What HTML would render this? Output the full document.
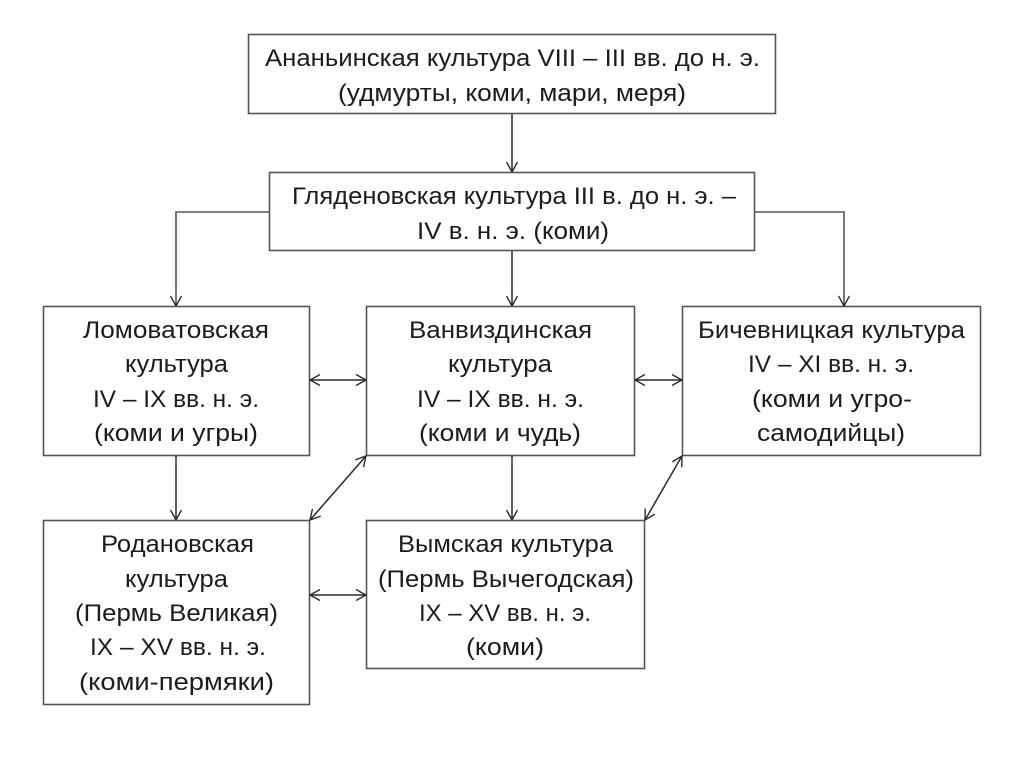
<!DOCTYPE html>
<html><head><meta charset="utf-8">
<style>
html,body{margin:0;padding:0;background:#fff}
svg{display:block;filter:blur(0.35px)}
text{font-family:"Liberation Sans","DejaVu Sans",sans-serif;font-size:24.5px;fill:#1c1c1c;text-anchor:start}
rect{fill:#fff;stroke:#555;stroke-width:1.6}
.l{fill:none;stroke:#2a2a2a;stroke-width:1.5}
.g{fill:none;stroke:#555;stroke-width:1.6}
</style></head><body>
<svg width="1024" height="767" viewBox="0 0 1024 767" xmlns="http://www.w3.org/2000/svg">
<defs>
<marker id="a" viewBox="0 0 11 12" refX="10.5" refY="6" markerWidth="11" markerHeight="12" markerUnits="userSpaceOnUse" orient="auto-start-reverse"><path d="M0.500 0.500L10.500 6L0.500 11.500" fill="none" stroke="#2a2a2a" stroke-width="1.4"/></marker>
</defs>
<rect x="248.500" y="34.500" width="527" height="79"/>
<rect x="269.500" y="172.500" width="485" height="78"/>
<rect x="43.500" y="306.500" width="266" height="149"/>
<rect x="366.500" y="306.500" width="268" height="149"/>
<rect x="682.500" y="306.500" width="298" height="149"/>
<rect x="43.500" y="520.500" width="266" height="184"/>
<rect x="366.500" y="520.500" width="278" height="148"/>
<path class="l" d="M512 114V172" marker-end="url(#a)"/>
<path class="g" d="M269 212H176V306" marker-end="url(#a)"/>
<path class="l" d="M512 251V306" marker-end="url(#a)"/>
<path class="g" d="M755 212H844V306" marker-end="url(#a)"/>
<path class="l" d="M310 380H366" marker-start="url(#a)" marker-end="url(#a)"/>
<path class="l" d="M635 380H682" marker-start="url(#a)" marker-end="url(#a)"/>
<path class="l" d="M176 456V520" marker-end="url(#a)"/>
<path class="l" d="M512 456V520" marker-end="url(#a)"/>
<path class="l" d="M310 520L366 456" marker-start="url(#a)" marker-end="url(#a)"/>
<path class="l" d="M645 520L682 456" marker-start="url(#a)" marker-end="url(#a)"/>
<path class="l" d="M310 595H366" marker-start="url(#a)" marker-end="url(#a)"/>
<g lengthAdjust="spacingAndGlyphs">
<text x="265" y="66" textLength="495" lengthAdjust="spacingAndGlyphs">Ананьинская культура VIII – III вв. до н. э.</text>
<text x="338" y="101" textLength="348" lengthAdjust="spacingAndGlyphs">(удмурты, коми, мари, меря)</text>
<text x="292" y="204" textLength="444" lengthAdjust="spacingAndGlyphs">Гляденовская культура III в. до н. э. –</text>
<text x="417" y="239" textLength="192" lengthAdjust="spacingAndGlyphs">IV в. н. э. (коми)</text>
<text x="83" y="338" textLength="186" lengthAdjust="spacingAndGlyphs">Ломоватовская</text>
<text x="125" y="372" textLength="103" lengthAdjust="spacingAndGlyphs">культура</text>
<text x="93" y="407" textLength="166" lengthAdjust="spacingAndGlyphs">IV – IX вв. н. э.</text>
<text x="94" y="441" textLength="164" lengthAdjust="spacingAndGlyphs">(коми и угры)</text>
<text x="409" y="338" textLength="183" lengthAdjust="spacingAndGlyphs">Ванвиздинская</text>
<text x="448" y="372" textLength="104" lengthAdjust="spacingAndGlyphs">культура</text>
<text x="417" y="407" textLength="167" lengthAdjust="spacingAndGlyphs">IV – IX вв. н. э.</text>
<text x="419" y="441" textLength="162" lengthAdjust="spacingAndGlyphs">(коми и чудь)</text>
<text x="698" y="338" textLength="267" lengthAdjust="spacingAndGlyphs">Бичевницкая культура</text>
<text x="748" y="372" textLength="166" lengthAdjust="spacingAndGlyphs">IV – XI вв. н. э.</text>
<text x="752" y="407" textLength="160" lengthAdjust="spacingAndGlyphs">(коми и угро-</text>
<text x="757" y="441" textLength="148" lengthAdjust="spacingAndGlyphs">самодийцы)</text>
<text x="101" y="552" textLength="153" lengthAdjust="spacingAndGlyphs">Родановская</text>
<text x="125" y="587" textLength="103" lengthAdjust="spacingAndGlyphs">культура</text>
<text x="75" y="621" textLength="203" lengthAdjust="spacingAndGlyphs">(Пермь Великая)</text>
<text x="90" y="655" textLength="176" lengthAdjust="spacingAndGlyphs">IX – XV вв. н. э.</text>
<text x="79" y="690" textLength="195" lengthAdjust="spacingAndGlyphs">(коми-пермяки)</text>
<text x="398" y="552" textLength="215" lengthAdjust="spacingAndGlyphs">Вымская культура</text>
<text x="378" y="587" textLength="256" lengthAdjust="spacingAndGlyphs">(Пермь Вычегодская)</text>
<text x="419" y="621" textLength="172" lengthAdjust="spacingAndGlyphs">IX – XV вв. н. э.</text>
<text x="466" y="655" textLength="78" lengthAdjust="spacingAndGlyphs">(коми)</text>
</g>
</svg>
</body></html>
